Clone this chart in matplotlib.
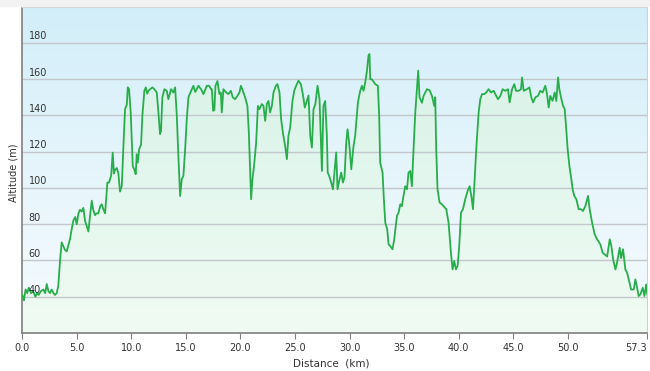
import numpy as np
import matplotlib.pyplot as plt
from matplotlib.colors import LinearSegmentedColormap
from matplotlib.patches import Rectangle

# profile (km, m)
dist_km = [0.0, 0.15, 0.3, 0.45, 0.6, 0.8, 1.0, 1.2, 1.35, 1.5, 1.7, 1.93, 2.1, 2.24, 2.4,
           2.54, 2.7, 2.85, 3.0, 3.15, 3.3, 3.46, 3.61, 3.76, 3.9, 4.07, 4.2, 4.38, 4.55,
           4.68, 4.85, 4.99, 5.15, 5.29, 5.45, 5.6, 5.75, 5.9, 6.06, 6.2, 6.37, 6.5, 6.67,
           6.8, 6.97, 7.15, 7.28, 7.45, 7.59, 7.7, 7.8, 7.95, 8.05, 8.15, 8.29, 8.4, 8.5,
           8.66, 8.81, 8.96, 9.12, 9.27, 9.42, 9.58, 9.67, 9.79, 9.94, 10.03, 10.13, 10.28,
           10.4, 10.49, 10.59, 10.71, 10.89, 11.01, 11.19, 11.32, 11.45, 11.56, 11.72, 11.93,
           12.11, 12.33, 12.48, 12.63, 12.72, 12.84, 13.03, 13.25, 13.39, 13.64, 13.85, 14.01,
           14.16, 14.31, 14.47, 14.62, 14.77, 14.93, 15.08, 15.23, 15.48, 15.69, 15.85, 16.0,
           16.15, 16.39, 16.61, 16.92, 17.13, 17.31, 17.38, 17.5, 17.61, 17.71, 17.89, 18.07,
           18.2, 18.29, 18.44, 18.69, 18.9, 19.12, 19.3, 19.51, 19.72, 19.91, 20.04, 20.22,
           20.43, 20.64, 20.77, 20.89, 20.98, 21.1, 21.26, 21.44, 21.6, 21.74, 21.96, 22.11,
           22.27, 22.42, 22.57, 22.72, 22.88, 23.03, 23.25, 23.39, 23.58, 23.73, 23.89, 24.1,
           24.26, 24.4, 24.56, 24.77, 24.93, 25.11, 25.32, 25.54, 25.72, 25.9, 26.24, 26.4,
           26.55, 26.7, 26.86, 27.07, 27.25, 27.47, 27.61, 27.77, 27.93, 28.0, 28.14, 28.32,
           28.48, 28.62, 28.78, 28.9, 29.06, 29.24, 29.4, 29.54, 29.7, 29.82, 29.97, 30.16,
           30.37, 30.52, 30.77, 30.98, 31.14, 31.28, 31.44, 31.6, 31.74, 31.83, 31.9, 32.05,
           32.36, 32.6, 32.72, 32.81, 33.03, 33.15, 33.28, 33.46, 33.58, 33.73, 33.94, 34.1,
           34.35, 34.5, 34.65, 34.8, 34.95, 35.11, 35.27, 35.41, 35.57, 35.72, 35.87, 36.03,
           36.18, 36.3, 36.42, 36.64, 36.79, 37.1, 37.34, 37.56, 37.77, 37.86, 37.95, 38.07,
           38.26, 38.48, 38.62, 38.87, 39.08, 39.3, 39.45, 39.6, 39.76, 39.91, 40.06, 40.22,
           40.4, 40.61, 40.83, 41.01, 41.17, 41.32, 41.44, 41.62, 41.84, 41.99, 42.15, 42.36,
           42.54, 42.75, 42.97, 43.21, 43.46, 43.61, 43.83, 44.04, 44.28, 44.53, 44.68, 44.9,
           45.11, 45.27, 45.5, 45.72, 45.82, 45.97, 46.27, 46.49, 46.67, 46.83, 47.04, 47.28,
           47.49, 47.71, 47.95, 48.11, 48.26, 48.41, 48.62, 48.81, 48.96, 49.12, 49.24, 49.39,
           49.58, 49.73, 49.85, 50.0, 50.16, 50.34, 50.46, 50.61, 50.8, 51.01, 51.23, 51.41,
           51.62, 51.87, 52.02, 52.24, 52.48, 52.7, 53.0, 53.21, 53.39, 53.62, 53.86, 54.01,
           54.17, 54.38, 54.53, 54.77, 54.9, 55.08, 55.29, 55.45, 55.6, 55.82, 56.06, 56.21,
           56.37, 56.51, 56.67, 56.88, 57.04, 57.2, 57.3]
altitude_m = [41, 38, 44, 42, 45, 42, 43, 40, 42, 41, 43, 44, 42, 47, 43,
              42, 44, 42, 41, 42, 46, 60, 70, 68, 66, 65, 68, 72, 78,
              82, 84, 80, 86, 88, 87, 89, 82, 79, 76, 84, 93, 88, 85,
              86, 86, 90, 91, 88, 86, 95, 103, 103, 105, 107, 119.5, 108, 110,
              111, 108, 98, 101, 123, 143.5, 146, 155.5, 154.5, 141.7, 127, 112, 110,
              107.6, 118.6, 114, 121.4, 124, 140, 153.6, 155.5, 152, 153.6, 154.5, 155.5,
              154.5, 152.7, 141.7, 129.7, 131.5, 150, 154.5, 153.6, 149, 154.5, 152.7, 155.5,
              140.7, 117.7, 95.6, 104.8, 106.7, 121.4, 138, 150, 153.6, 156.4, 153, 154.5,
              156.4, 154.5, 151.8, 156.4, 156.4, 154.5, 154.5, 142.6, 143, 156.4, 159, 151.8,
              152.7, 141.7, 154.5, 152.7, 151.8, 153.6, 150, 149, 150.8, 152.7, 156.4, 153.6,
              150, 145.3, 130.6, 108.5, 93.8, 104.8, 113, 125, 145.3, 143.5, 146.3, 145.3,
              137, 146.3, 148, 141.7, 145.3, 152.7, 156.4, 157.3, 152.7, 138, 130.6, 123.2,
              115.9, 128.8, 133.4, 148, 153.6, 156.4, 159.2, 157.3, 151.8, 144.4, 151, 128.8,
              122.3, 143.5, 146, 156.4, 149, 109.4, 145.3, 148, 128, 108.5, 106.7, 103,
              99.3, 108.5, 119.6, 99.3, 104, 108.5, 103, 106, 125, 132.4, 125, 110.3,
              123.2, 128.8, 147.2, 153.6, 156.4, 153.6, 158.2, 164.7, 173, 173.9, 160, 160,
              157.3, 156.4, 139.8, 114, 108.5, 93.8, 80.9, 77.2, 68.9, 68, 66.2, 71.7,
              84.6, 86.4, 91, 90, 95.6, 101, 99.3, 108.5, 109.4, 101, 121.4, 141.7,
              154.5, 164.7, 150, 147, 150.8, 154.5, 154, 150.8, 145.3, 150, 121.4, 99.3,
              92, 91, 90, 88.3, 80.9, 64.3, 55.1, 59.7, 55.1, 57, 68, 86.4,
              88.3, 93.8, 98.4, 101, 95.6, 88.3, 101, 121.4, 141.7, 149, 151.8, 151.8,
              152.7, 154.5, 152.7, 153.6, 150.8, 149, 150.8, 154.5, 153.6, 154.5, 147.2, 154.5,
              157.3, 153.6, 153.6, 154.5, 161, 153.6, 154.5, 155.5, 150, 147.2, 150, 150.8,
              153.6, 152.7, 156.4, 151.8, 144.4, 150.8, 148.1, 152.7, 148, 161, 154.5, 150,
              145.3, 143.5, 134.3, 121.4, 112.2, 104.8, 99.3, 95.6, 93.8, 88.3, 88.3, 87.3,
              90, 95.6, 88.3, 80.9, 74.4, 71.7, 68.9, 64.3, 63.4, 62.2, 71.7, 68,
              60.6, 55.1, 58.8, 67, 61.3, 66.2, 55.1, 53.3, 49.6, 44, 44, 49.6,
              45, 40.4, 41.3, 45, 40.4, 46.8, 41.3]

x_ticks = [0, 5, 10, 15, 20, 25, 30, 35, 40, 45, 50, 57.3]
y_ticks = [40, 60, 80, 100, 120, 140, 160, 180]

fig = plt.figure(figsize=(6.5, 3.71), dpi=100)
fig.patches.append(Rectangle((0, 365 / 371), 1, 6 / 371, transform=fig.transFigure,
                             color='#f2f2f2', zorder=0))
ax = fig.add_axes([0.0343, 0.1024, 0.9615, 0.8795])

x_max = x_ticks[-1]
grad = np.linspace(0, 1, 256).reshape(-1, 1)

# sky background
sky = LinearSegmentedColormap.from_list('sky', ['#f6fbff', '#e6f5fc', '#d2eef9'])
ax.imshow(grad, cmap=sky, extent=[0, x_max, 20, 200], aspect='auto', origin='lower', zorder=0)

# green gradient under the profile
poly = ax.fill_between(dist_km, 20, altitude_m, facecolor='none', edgecolor='none')
greens = LinearSegmentedColormap.from_list('grn', ['#f0fbf3', '#e4f7ee', '#d6f1e6'])
im = ax.imshow(grad, cmap=greens, extent=[0, x_max, 20, 180], aspect='auto',
               origin='lower', zorder=1)
im.set_clip_path(poly.get_paths()[0], transform=ax.transData)

for v in y_ticks:
    ax.axhline(v, color='#c3c7cb', lw=1.0, zorder=2)
    ax.text(0.6, v + 3.6, str(v), fontsize=7, color='#333333', va='center', ha='left', zorder=4)

ax.plot(dist_km, altitude_m, color='#27ae4a', lw=1.3, zorder=3)

ax.set_xlim(0, x_max)
ax.set_ylim(20, 200)
ax.set_xticks(x_ticks)
ax.set_xticklabels(['%.1f' % t for t in x_ticks])
ax.set_yticks([])
ax.tick_params(axis='x', direction='out', length=4, color='#808080', labelsize=7,
               labelcolor='#333333', pad=3)
# last label sits left of its tick so it stays inside the picture
ax.get_xticklabels()[-1].set_horizontalalignment('right')

ax.spines['left'].set_color('#7f7f7f')
ax.spines['bottom'].set_color('#7f7f7f')
ax.spines['left'].set_linewidth(1.2)
ax.spines['bottom'].set_linewidth(1.2)
ax.spines['top'].set_color('#d0d0d0')
ax.spines['right'].set_color('#d0d0d0')

fig.text(14 / 650, 1 - 173 / 371, 'Altitude (m)', rotation=90, fontsize=7,
         color='#333333', ha='center', va='center')
fig.text(331 / 650, 1 - 363 / 371, 'Distance  (km)', fontsize=7.5,
         color='#333333', ha='center', va='center')

fig.savefig('out.png', dpi=100)
